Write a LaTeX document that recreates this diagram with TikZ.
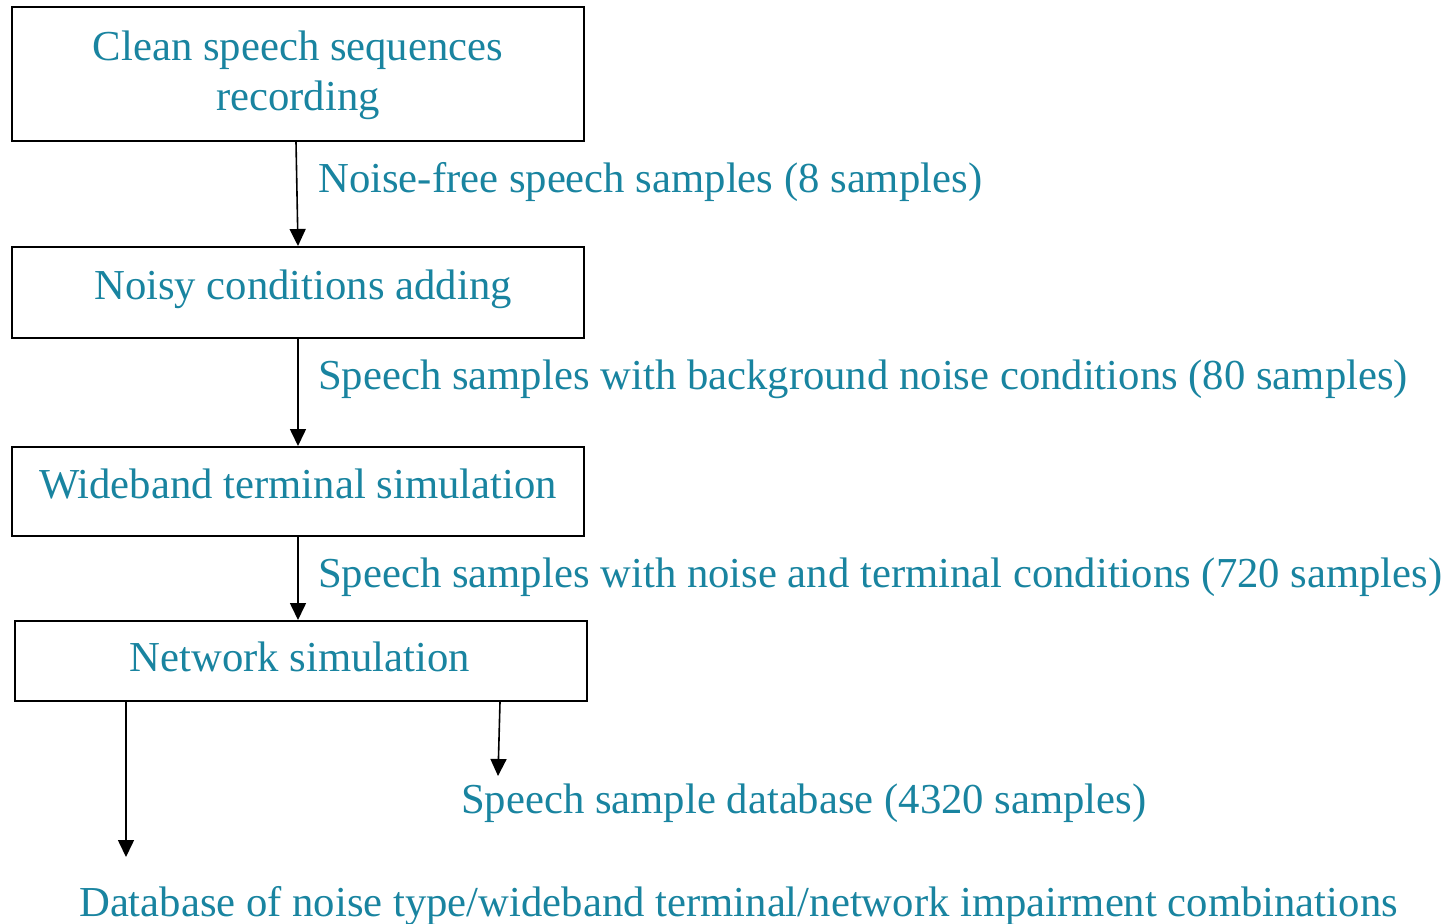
\documentclass[tikz,border=0pt]{standalone}
\usepackage{fontspec}
\setmainfont{Liberation Serif}
\usetikzlibrary{arrows.meta}
\definecolor{txtblue}{RGB}{25,132,160}
\begin{document}
\begin{tikzpicture}[x=1pt,y=-1pt,
  box/.style={draw=black, line width=2pt, rectangle, inner sep=0pt, minimum width=572pt},
  txt/.style={text=txtblue, font=\fontsize{42.7}{50}\selectfont, inner sep=0pt},
  arr/.style={draw=black, line width=1.6pt, -{Triangle[width=16pt,length=17pt]}}]
\useasboundingbox (0,0) rectangle (1452,924);
% boxes
\node[box, minimum height=134pt] (b1) at (298,74) {};
\node[box, minimum height=91pt] (b2) at (298,292.5) {};
\node[box, minimum height=89pt] (b3) at (298,491.5) {};
\node[box, minimum height=80pt] (b4) at (301,661) {};
% box texts
\node[txt, anchor=base] (t1a) at (298,60) {Clean speech sequences};
\node[txt, anchor=base] (t1b) at (298,110) {recording};
\node[txt, anchor=base] (t2) at (303,299) {Noisy conditions adding};
\node[txt, anchor=base] (t3) at (298,498) {Wideband terminal simulation};
\node[txt, anchor=base] (t4) at (300,671) {Network simulation};
% connector labels
\node[txt, anchor=base west] (l1) at (318,192) {Noise-free speech samples (8 samples)};
\node[txt, anchor=base west] (l2) at (318,389) {Speech samples with background noise conditions (80 samples)};
\node[txt, anchor=base west] (l3) at (318,587) {Speech samples with noise and terminal conditions (720 samples)};
\node[txt, anchor=base west] (l4) at (461,813) {Speech sample database (4320 samples)};
\node[txt, anchor=base west] (l5) at (79,916) {Database of noise type/wideband terminal/network impairment combinations};
% free ends
\coordinate (e4) at (126,857);
\coordinate (e5) at (498,776);
% connectors
\draw[arr] ([xshift=-2pt]b1.south) -- (b2.north);
\draw[arr] (b2.south) -- (b3.north);
\draw[arr] (b3.south) -- ([xshift=-3pt]b4.north);
\draw[arr] ([xshift=-175pt,yshift=2pt]b4.south) -- (e4);
\draw[arr] ([xshift=199pt]b4.south) -- (e5);
\end{tikzpicture}
\end{document}
